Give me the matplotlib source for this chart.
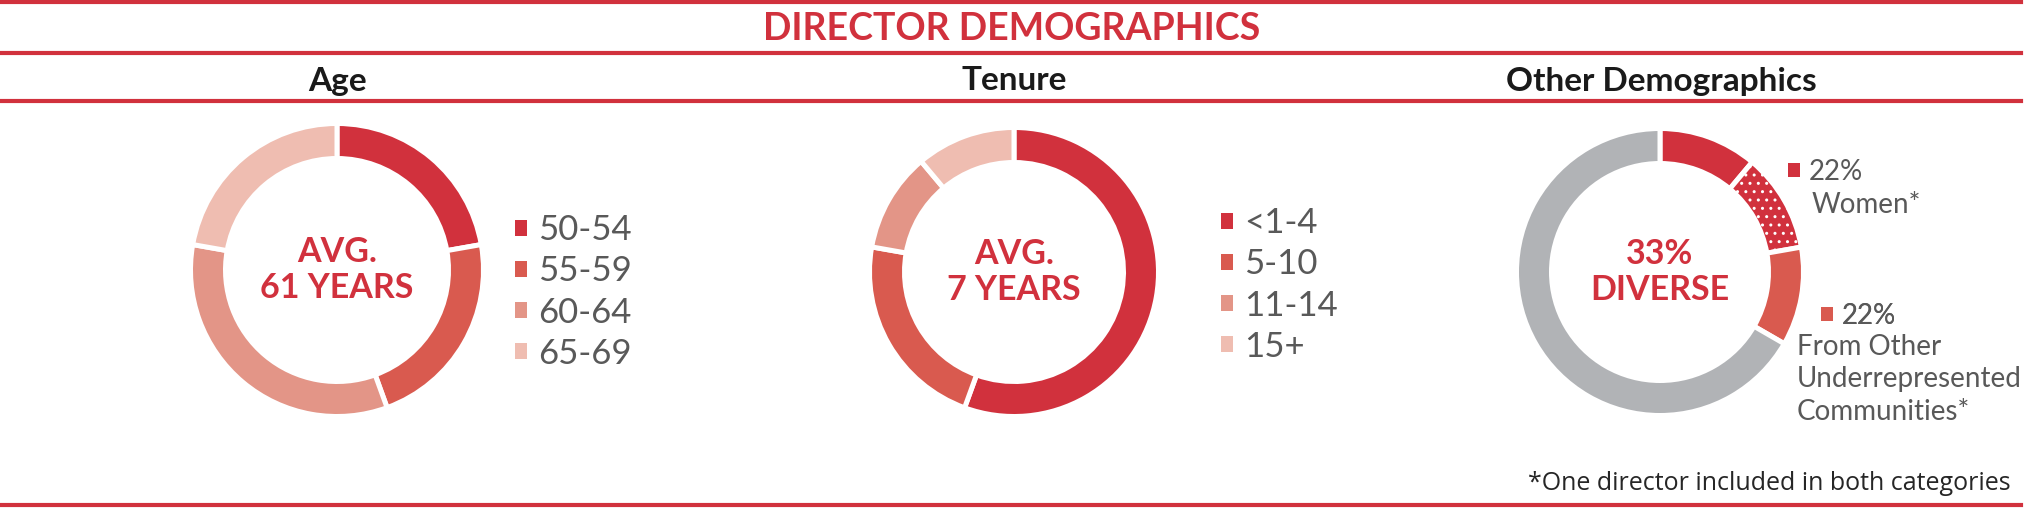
import matplotlib.pyplot as plt
from matplotlib.patches import Patch

plt.rcParams['font.family'] = ['Lato', 'DejaVu Sans']

# data (9 directors)
age_labels = ['50-54', '55-59', '60-64', '65-69']
age_counts = [2, 2, 3, 2]

tenure_labels = ['<1-4', '5-10', '11-14', '15+']
tenure_counts = [5, 2, 1, 1]

other_segments = ['Women only', 'Women & other', 'Other underrepresented only', 'Not diverse']
other_counts = [1, 1, 1, 6]
women_pct = '22%'
other_pct = '22%'

RED = '#d1313d'
REDS = ['#d1313d', '#d95a4f', '#e39587', '#efbdb1']
GREY = '#b1b3b6'
TEXT_GREY = '#595959'

W, H = 2028, 508
fig = plt.figure(figsize=(W / 100, H / 100), dpi=100)
bg = fig.add_axes([0, 0, 1, 1])
bg.set_xlim(0, W)
bg.set_ylim(H, 0)
bg.axis('off')

# rules
for y in [2, 53, 101, 505]:
    bg.axhline(y, xmin=0, xmax=2021 / W, color=RED, lw=3)

bg.text(1012, 29, 'DIRECTOR DEMOGRAPHICS', color=RED, fontsize=27, fontweight='bold',
        ha='center', va='center')
for x, t in [(337, 'Age'), (1014, 'Tenure'), (1661, 'Other Demographics')]:
    bg.text(x, 81, t, color='#1a1a1a', fontsize=24, fontweight='bold', ha='center', va='center')


def donut(cx, cy, r, values, colors, center_text):
    pad = 2.5
    R = r + pad
    ax = fig.add_axes([(cx - R) / W, (H - cy - R) / H, 2 * R / W, 2 * R / H])
    wedges, _ = ax.pie(values, colors=colors, startangle=90, counterclock=False, radius=1,
                       wedgeprops=dict(width=35 / R, edgecolor='white', linewidth=3.6))
    ax.set_xlim(-1, 1)
    ax.set_ylim(-1, 1)
    ax.text(0, 0, center_text, color=RED, fontsize=24.5, fontweight='bold',
            ha='center', va='center', linespacing=1.12)
    return wedges


def legend(x, y, labels, colors, size, spacing):
    hs = 12 / (size * 100 / 72)
    leg = bg.legend(handles=[Patch(facecolor=c, edgecolor='none') for c in colors], labels=labels,
                    loc='center left', bbox_to_anchor=(x, y), bbox_transform=bg.transData,
                    frameon=False, fontsize=size, handlelength=hs, handleheight=hs,
                    handletextpad=0.33, labelspacing=spacing, borderpad=0, borderaxespad=0,
                    labelcolor=TEXT_GREY)
    bg.add_artist(leg)


donut(337, 270, 144, age_counts, REDS, 'AVG.\n61 YEARS')
legend(515, 292, age_labels, REDS, 25, 0.26)

donut(1014, 272, 142, tenure_counts, REDS, 'AVG.\n7 YEARS')
legend(1221, 285, tenure_labels, REDS, 25, 0.26)

w = donut(1660, 272, 141, other_counts, [RED, RED, REDS[1], GREY], '33%\nDIVERSE')
w[1].set_hatch('..')

legend(1788, 172, [women_pct], [RED], 20, 0.1)
bg.text(1812, 205, 'Women*', color=TEXT_GREY, fontsize=20, va='center')
legend(1821, 316, [other_pct], [REDS[1]], 20, 0.1)
bg.text(1797, 334, 'From Other\nUnderrepresented\nCommunities*', color=TEXT_GREY, fontsize=20,
        va='top', linespacing=1.3)

bg.text(2011, 483, '*One director included in both categories', color='#262626', fontsize=18,
        family=['Open Sans', 'DejaVu Sans'], ha='right', va='center')

fig.savefig('out.png', dpi=100)
